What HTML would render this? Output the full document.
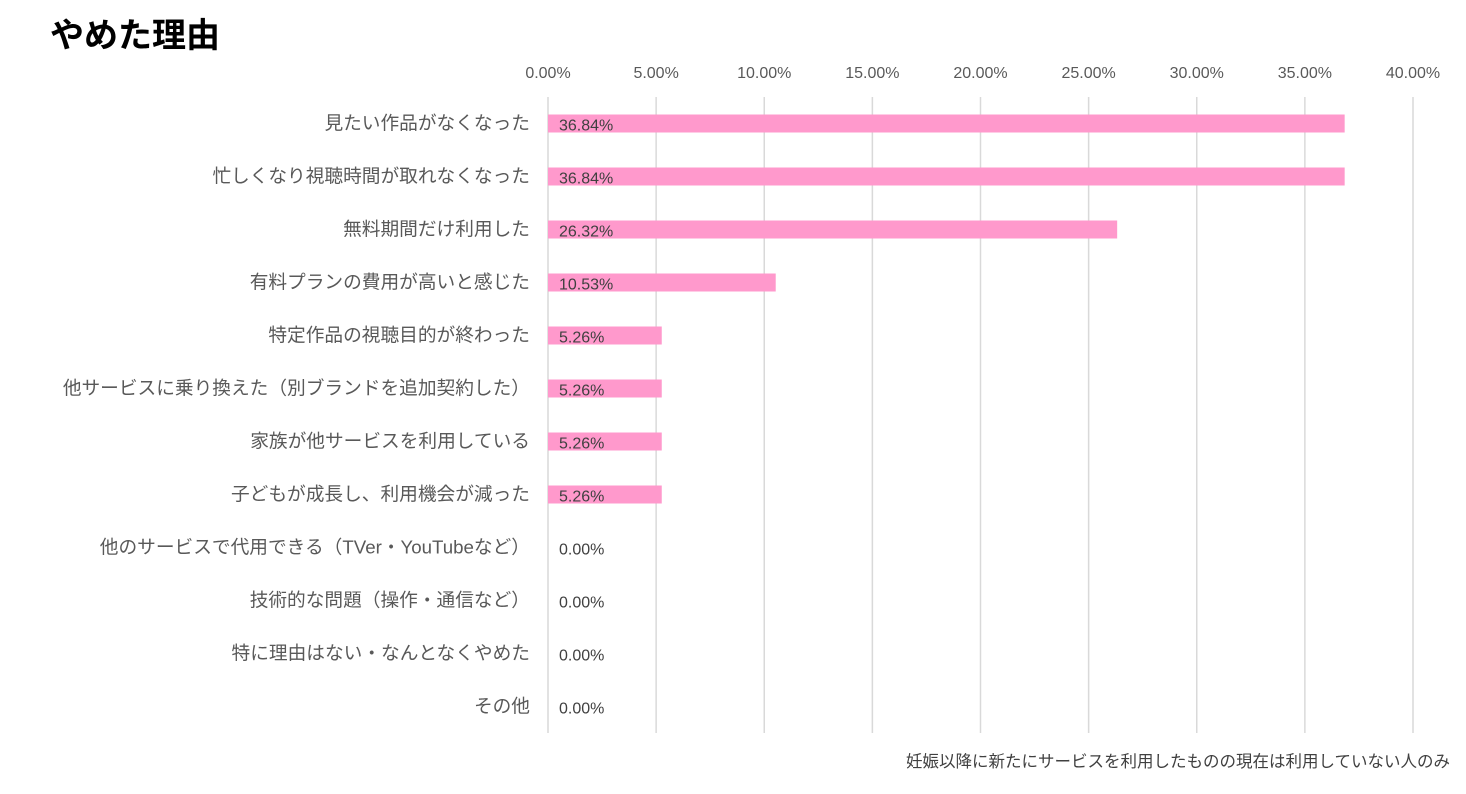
<!DOCTYPE html>
<html><head><meta charset="utf-8"><style>
body{margin:0;background:#fff;width:1466px;height:789px;overflow:hidden;font-family:"Liberation Sans","Noto Sans CJK JP",sans-serif;}
</style></head><body>
<svg id="c" width="1466" height="789" xmlns="http://www.w3.org/2000/svg">
<text x="50" y="47" font-size="34" font-weight="bold" fill="#000" font-family="Liberation Sans, Noto Sans CJK JP, sans-serif">やめた理由</text>
<text x="1450" y="767" font-size="16.5" fill="#404040" text-anchor="end" font-family="Liberation Sans, Noto Sans CJK JP, sans-serif">妊娠以降に新たにサービスを利用したものの現在は利用していない人のみ</text>
<g id="grid"></g><g id="bars"></g>
</svg>
<script>
const categories=["見たい作品がなくなった","忙しくなり視聴時間が取れなくなった","無料期間だけ利用した","有料プランの費用が高いと感じた","特定作品の視聴目的が終わった","他サービスに乗り換えた（別ブランドを追加契約した）","家族が他サービスを利用している","子どもが成長し、利用機会が減った","他のサービスで代用できる（TVer・YouTubeなど）","技術的な問題（操作・通信など）","特に理由はない・なんとなくやめた","その他"];
const values=[36.84,36.84,26.32,10.53,5.26,5.26,5.26,5.26,0,0,0,0];
const ticks=[0,5,10,15,20,25,30,35,40];
const NS="http://www.w3.org/2000/svg";
const x0=548,x1=1413,xmax=40,yTop=97,yBot=733,rowH=(yBot-yTop)/categories.length;
const xs=v=>x0+(x1-x0)*v/xmax;
const ys=i=>yTop+rowH*(i+0.5);
const F="Liberation Sans, Noto Sans CJK JP, sans-serif";
function mk(t,a,p){const e=document.createElementNS(NS,t);for(const k in a)e.setAttribute(k,a[k]);p.appendChild(e);return e;}
const g=document.getElementById('grid'),b=document.getElementById('bars');
ticks.forEach(t=>{
 const l=mk('line',{x1:xs(t),x2:xs(t),y1:yTop,y2:yBot,stroke:'#d9d9d9','stroke-width':1.5},g);
 
 
 const tx=mk('text',{x:xs(t),y:78,'font-size':16,fill:'#595959','text-anchor':'middle','font-family':F},g);
 tx.textContent=t.toFixed(2)+'%';
 
 
});
categories.forEach((c,i)=>{
 const y=ys(i);
 const lb=mk('text',{x:530,y:y+6,'font-size':18.7,fill:'#595959','text-anchor':'end','font-family':F},b);
 lb.textContent=c;
 
 
 if(values[i]>0){
  const r=mk('rect',{x:x0,y:y-9,width:xs(values[i])-x0,height:18,fill:'#ff99cc'},b);
  
  
 }
 const v=mk('text',{x:559,y:y+7,'font-size':16,fill:'#404040','font-family':F},b);
 v.textContent=values[i].toFixed(2)+'%';
 
 
});
</script>
</body></html>
